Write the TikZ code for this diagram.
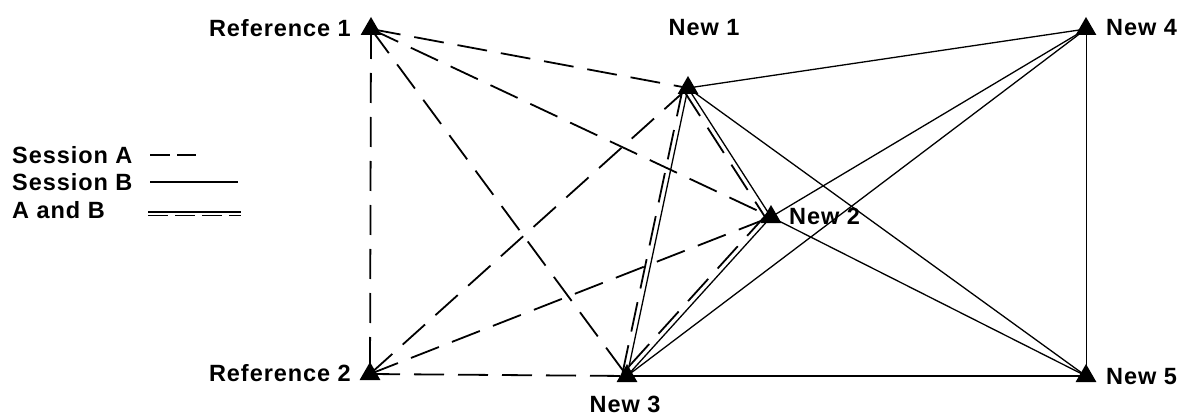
\documentclass[tikz,border=0pt]{standalone}
\usepackage{fontspec}
\newfontfamily\lblfont[LetterSpace=4]{Liberation Sans}
\usetikzlibrary{shapes.geometric,calc}
\begin{document}
\begin{tikzpicture}[x=1pt,y=-1pt,
  station/.style={regular polygon,regular polygon sides=3,fill=black,draw=none,inner sep=0pt,minimum size=24pt},
  lbl/.style={font=\lblfont\fontsize{23.5}{26}\selectfont\bfseries,inner sep=0pt},
  sessA/.style={line width=1.8pt,dash pattern=on 30pt off 14pt},
  sessB/.style={line width=1.3pt},
  legA/.style={line width=1.8pt,dash pattern=on 20pt off 7pt},
]
\useasboundingbox (0,0) rectangle (1200,417);
% stations
\node[station] (R1) at (371,29) {};
\node[station] (R2) at (370,374) {};
\node[station] (N1) at (688,88) {};
\node[station] (N2) at (771,217) {};
\node[station] (N3) at (627,376) {};
\node[station] (N4) at (1086,29) {};
\node[station] (N5) at (1086,376) {};
% labels
\node[lbl,anchor=east] (tR1) at (351,28) {Reference 1};
\node[lbl,anchor=east] (tR2) at (351,373) {Reference 2};
\node[lbl] (tN1) at (704,28) {New 1};
\node[lbl,anchor=west] (tN2) at (789,216) {New 2};
\node[lbl] (tN3) at (625,404) {New 3};
\node[lbl,anchor=west] (tN4) at (1106,28) {New 4};
\node[lbl,anchor=west] (tN5) at (1106,377) {New 5};
% session A
\draw[sessA] (R1.center) -- (R2.center);
\draw[sessA] (R1.center) -- (N1.center);
\draw[sessA] (R1.center) -- (N2.center);
\draw[sessA] (R1.center) -- (N3.center);
\draw[sessA] (R2.center) -- (N1.center);
\draw[sessA] (R2.center) -- (N2.center);
\draw[sessA] (R2.center) -- (N3.center);
% session B
\draw[sessB] (N1.center) -- (N4.center);
\draw[sessB] (N1.center) -- (N5.center);
\draw[sessB] (N2.center) -- (N4.center);
\draw[sessB] (N2.center) -- (N5.center);
\draw[sessB] (N3.center) -- (N4.center);
\draw[sessB] (N3.center) -- (N5.center);
\draw[sessB,line width=0.9pt] (N4.center) -- (N5.center);
% A and B
\draw[sessB] (N1.center) -- (N2.center);
\draw[sessA] ($(N1.center)!5pt!-90:(N2.center)$) -- ($(N2.center)!5pt!90:(N1.center)$);
\draw[sessB] (N1.center) -- (N3.center);
\draw[sessA] ($(N1.center)!5pt!-90:(N3.center)$) -- ($(N3.center)!5pt!90:(N1.center)$);
\draw[sessB] (N2.center) -- (N3.center);
\draw[sessA] ($(N2.center)!5pt!-90:(N3.center)$) -- ($(N3.center)!5pt!90:(N2.center)$);
% legend
\node[lbl,anchor=west] (lA) at (12,155) {Session A};
\node[lbl,anchor=west] (lB) at (12,182) {Session B};
\node[lbl,anchor=west] (lAB) at (12,210) {A and B};
\coordinate (lAs) at (150,155);
\coordinate (lAe) at (196,155);
\coordinate (lBs) at (150,182);
\coordinate (lBe) at (238,182);
\coordinate (lABs) at (148,212);
\coordinate (lABe) at (241,212);
\draw[legA] (lAs) -- (lAe);
\draw[sessB] (lBs) -- (lBe);
\draw[sessB] (lABs) -- (lABe);
\draw[legA] ([yshift=-3.5pt]lABs) -- ([yshift=-3.5pt]lABe);
\end{tikzpicture}
\end{document}
